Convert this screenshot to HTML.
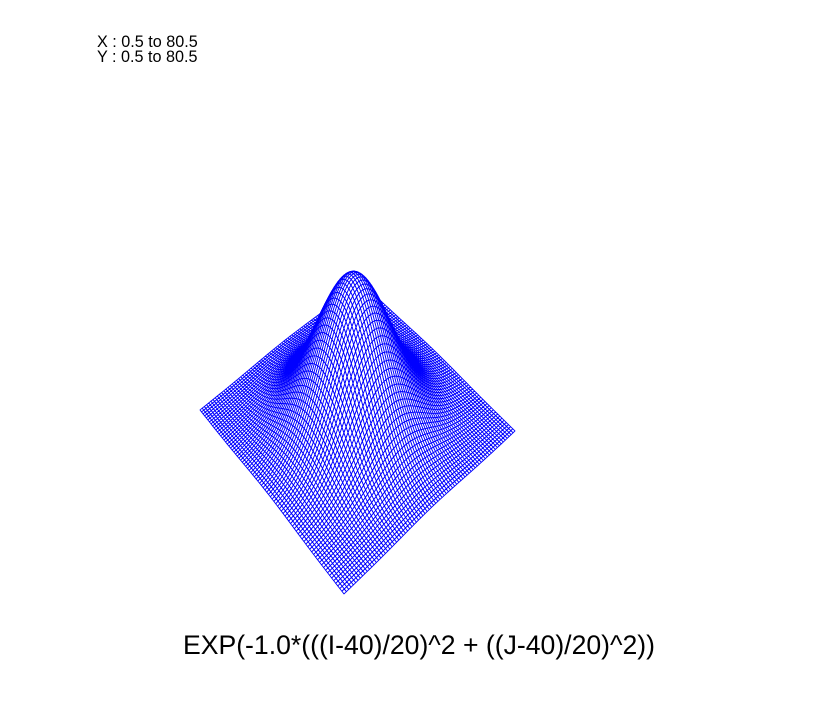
<!DOCTYPE html>
<html><head><meta charset="utf-8"><style>
html,body{margin:0;padding:0;background:#fff;}
body{width:819px;height:707px;position:relative;overflow:hidden;font-family:"Liberation Sans",sans-serif;}
.rng{position:absolute;left:97px;font-size:16.2px;line-height:15px;color:#000;}
#title{position:absolute;left:0;width:838px;text-align:center;top:630px;font-size:26.6px;color:#000;}
svg{position:absolute;left:0;top:0;}
</style></head><body>
<div class="rng" style="top:35px">X : 0.5 to 80.5</div>
<div class="rng" style="top:50px">Y : 0.5 to 80.5</div>
<svg id="plot" width="819" height="707"></svg>
<div id="title">EXP(-1.0*(((I-40)/20)^2 + ((J-40)/20)^2))</div>
<script>
const xRange = [0.5, 80.5];
const yRange = [0.5, 80.5];
const gridN = [80];
const center = [40, 40];
const widthScale = [20];
const svg = document.getElementById('plot');
const N = gridN[0];
function zval(i, j){
  const a = (i - center[0]) / widthScale[0], b = (j - center[1]) / widthScale[0];
  return Math.exp(-(a*a + b*b));
}
const P0 = [344, 594], P1 = [200, 410], P2 = [361, 282], P3 = [515, 431];
const dx1 = P1[0]-P2[0], dx2 = P3[0]-P2[0], dx3 = P0[0]-P1[0]+P2[0]-P3[0];
const dy1 = P1[1]-P2[1], dy2 = P3[1]-P2[1], dy3 = P0[1]-P1[1]+P2[1]-P3[1];
const den = dx1*dy2 - dx2*dy1;
const hg = (dx3*dy2 - dx2*dy3)/den, hh = (dx1*dy3 - dx3*dy1)/den;
const ha = P1[0]-P0[0]+hg*P1[0], hb = P3[0]-P0[0]+hh*P3[0], hc = P0[0];
const hd = P1[1]-P0[1]+hg*P1[1], he = P3[1]-P0[1]+hh*P3[1], hf = P0[1];
const H = 147;
const uc = (center[0]-xRange[0])/(xRange[1]-xRange[0]), vc = (center[1]-yRange[0])/(yRange[1]-yRange[0]);
const wc = hg*uc + hh*vc + 1;
function proj(i, j){
  const u = (i - xRange[0]) / (xRange[1] - xRange[0]);
  const v = (j - yRange[0]) / (yRange[1] - yRange[0]);
  const w = hg*u + hh*v + 1;
  const z = zval(i, j);
  return [(ha*u + hb*v + hc)/w, (hd*u + he*v + hf)/w - z*H*wc/w];
}
const g = document.createElementNS('http://www.w3.org/2000/svg', 'g');


svg.appendChild(g);
let parts = [];
for (let s = 2*N; s >= 0; s--) {
  for (let a = 0; a < N; a++) {
    const b = s - a;
    if (b < 0 || b >= N) continue;
    const i = xRange[0] + a, j = yRange[0] + b;
    const p1 = proj(i, j), p2 = proj(i+1, j), p3 = proj(i+1, j+1), p4 = proj(i, j+1);
    parts.push('<polygon points="' + [p1,p2,p3,p4].map(p => p[0].toFixed(2)+','+p[1].toFixed(2)).join(' ') + '"/>');
  }
}
g.innerHTML = parts.join('');
g.setAttribute('fill', '#fff');
g.setAttribute('stroke', '#0000ff');
g.setAttribute('stroke-width', '0.9');
g.setAttribute('stroke-linejoin', 'round');
</script>
</body></html>
